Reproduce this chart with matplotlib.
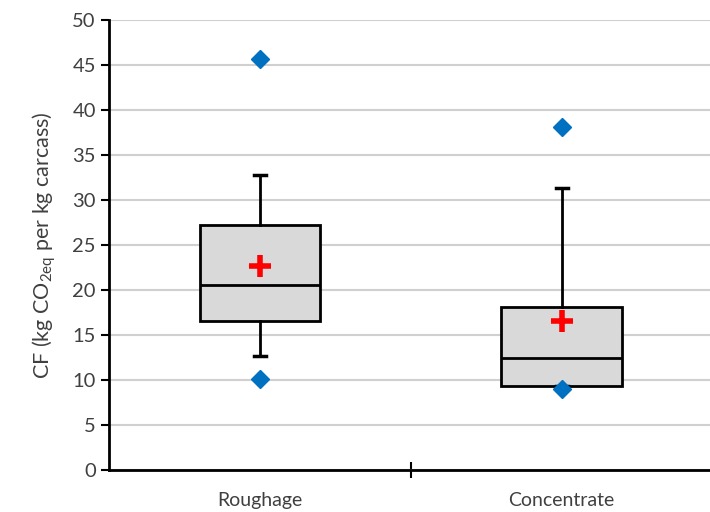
import matplotlib.pyplot as plt
import numpy as np

plt.rcParams['font.family'] = ['Lato', 'DejaVu Sans']
plt.rcParams['mathtext.default'] = 'regular'

# data
groups = ['Roughage', 'Concentrate']
q1 = [16.6, 9.3]
median = [20.6, 12.4]
q3 = [27.2, 18.1]
whisker_low = [12.7, 9.3]
whisker_high = [32.8, 31.3]
means = [22.7, 16.6]
outliers_high = [45.7, 38.1]
outliers_low = [10.1, 9.0]

fig = plt.figure(figsize=(7.1, 5.12), dpi=100)
ax = fig.add_axes([0.1535, 0.082, 0.85, 0.879])

stats = []
for i, g in enumerate(groups):
    stats.append(dict(label=g, q1=q1[i], med=median[i], q3=q3[i],
                      whislo=whisker_low[i], whishi=whisker_high[i], fliers=[]))

pos = np.arange(1, len(groups) + 1)
ax.bxp(stats, positions=pos, widths=0.4, patch_artist=True, showfliers=False,
       boxprops=dict(facecolor='#d9d9d9', edgecolor='black', linewidth=2),
       medianprops=dict(color='black', linewidth=2),
       whiskerprops=dict(color='black', linewidth=2),
       capprops=dict(color='black', linewidth=2.5), capwidths=0.04,
       zorder=3)

ax.plot(pos, means, linestyle='none', marker='+', color='red',
        markersize=16, markeredgewidth=4, zorder=5)
ax.plot(pos, outliers_high, linestyle='none', marker='D', color='#0070c0',
        markersize=9, zorder=5)
ax.plot(pos, outliers_low, linestyle='none', marker='D', color='#0070c0',
        markersize=9, zorder=5)

ax.set_xlim(0.5, 2.5)
ax.set_ylim(0, 50)
ax.set_yticks(np.arange(0, 51, 5))
ax.set_xticks([1.5])
ax.set_xticklabels([])
ax.tick_params(axis='x', direction='inout', length=12, width=1.5)
ax.tick_params(axis='y', direction='out', length=6, width=1.5, labelsize=14.5,
               labelcolor='#404040')
for p, g in zip(pos, groups):
    ax.text(p, -3.4, g, ha='center', va='center', fontsize=14, color='#404040')

ax.grid(axis='y', color='#d0d0d0', linewidth=1.5, zorder=0)
ax.set_axisbelow(True)
for s in ['top', 'right']:
    ax.spines[s].set_visible(False)
ax.spines['left'].set_linewidth(2)
ax.spines['bottom'].set_linewidth(2)

ax.set_ylabel('CF (kg CO$_{2eq}$ per kg carcass)', fontsize=15.5, color='#404040',
              labelpad=10)

fig.savefig('out.png', dpi=100)
